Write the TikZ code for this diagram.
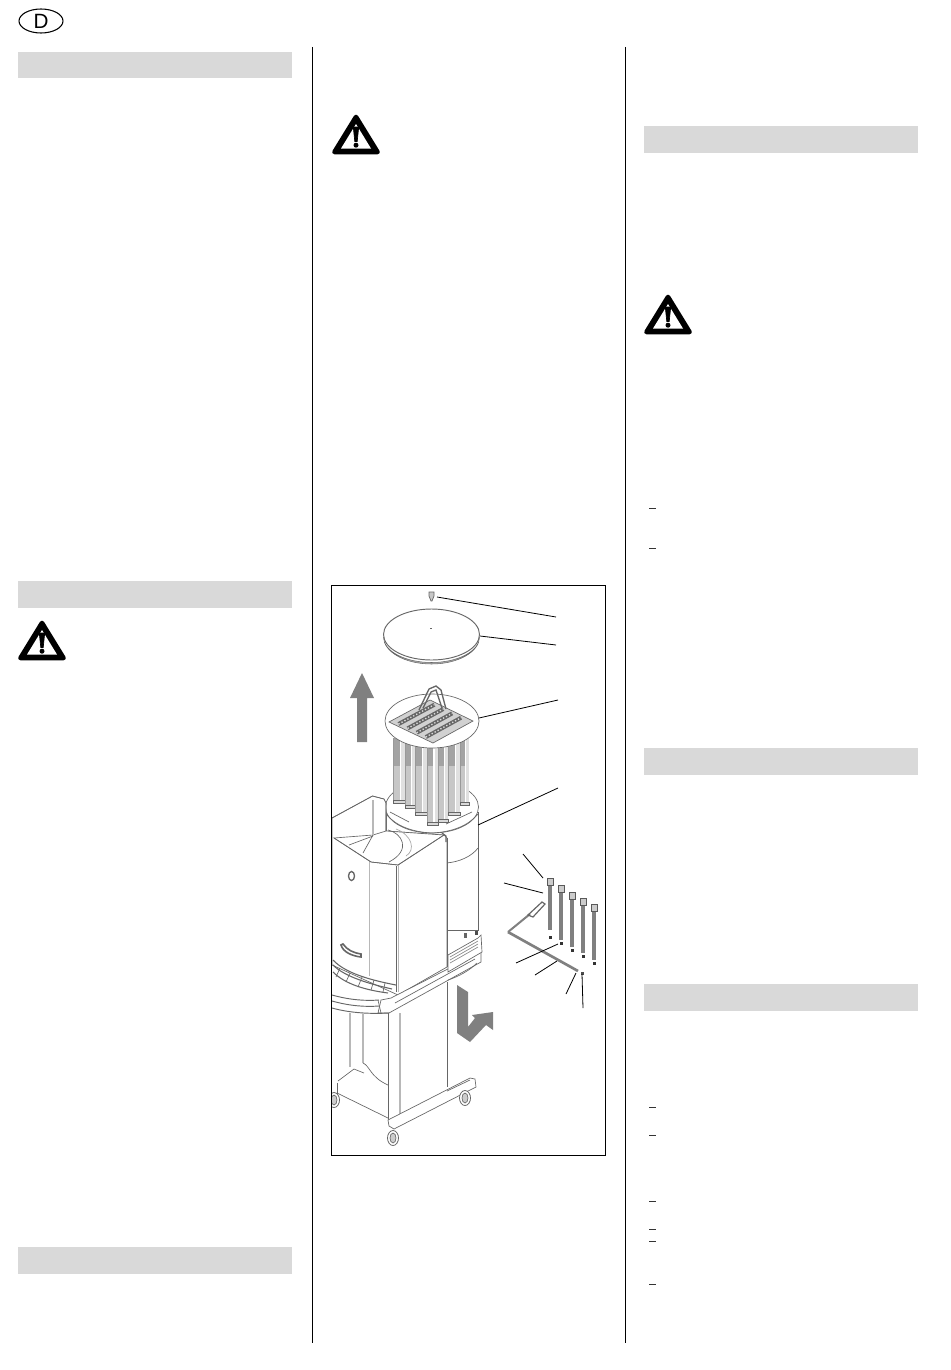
\documentclass[tikz,border=0pt]{standalone}
\usepackage{fontspec}
\setmainfont{Liberation Sans}
\usetikzlibrary{calc,shapes.geometric}
\definecolor{barfill}{gray}{0.85}
\definecolor{arrowfill}{gray}{0.5}
\tikzset{
    x=0.75pt,
    y=-0.75pt,
    bar/.style = {
        fill=barfill
    },
    rule/.style = {
        draw=black,
        line width=0.75pt
    },
    part/.style = {
        draw=black!60,
        line width=0.5pt,
        fill=white
    },
    outline/.style = {
        draw=black!60,
        line width=0.5pt
    },
    softedge/.style = {
        draw=black!28,
        line width=1.2pt
    },
    leader/.style = {
        draw=black,
        line width=0.6pt
    },
    bigarrow/.style = {
        fill=arrowfill
    },
    dashmark/.style = {
        draw=black!80,
        line width=0.6pt
    },
    warnsign/.pic = {
        \path[fill=black, draw=black, line width=3.5pt, line join=round] (0,-38) -- (21.5,-3) -- (-21.5,-3) -- cycle;
        \path[fill=white] (0,-31) -- (15,-6.5) -- (-15,-6.5) -- cycle;
        \path[fill=black, draw=black, line width=0.5pt, line join=round] (-2.7,-28) -- (2.7,-28) -- (1.2,-13.5) -- (-1.2,-13.5) -- cycle;
        \path[fill=black] (0,-9.8) circle (2.5);
    },
    caster/.pic = {
        \path[part, line width=0.6pt] (0,0) ellipse (5.5 and 7.5);
        \path[outline, fill=black!20] (0,0) ellipse (3 and 5);
    }
}
\begin{document}
\begin{tikzpicture}
    \useasboundingbox (0,0) rectangle (950,1370);

    % page furniture
    \node[draw=black, line width=0.8pt, shape=ellipse, minimum width=33pt, minimum height=18pt, inner sep=0pt, font=\fontsize{15.5}{15.5}\selectfont] (country) at (41,21) {D};
    \foreach \bx/\by in {18/52, 18/581, 18/1247, 644/126, 644/748, 644/984}
        \path[bar] (\bx,\by) rectangle ++(274,26.5);
    \foreach \rx in {312.5,625.5}
        \path[rule] (\rx,47) -- (\rx,1343);
    \foreach \wx/\wy in {42/661, 356/155, 668/335}
        \pic at (\wx,\wy) {warnsign};
    \foreach \dy in {508,548,1107,1135,1201,1229,1241,1284}
        \path[dashmark] (649,\dy) -- (656,\dy);

    % big arrows
    \path[bigarrow] (362,673) -- (374,698) -- (367,698) -- (367,742) -- (357,742) -- (357,698) -- (350,698) -- cycle;
    \path[bigarrow] (457,985) -- (468,992) -- (468,1027) -- (475,1018) -- (472,1015) -- (493,1012) -- (493,1030) -- (486,1025) -- (470,1042) -- (457,1033) -- cycle;

    % screw and lid
    \path[part, fill=black!22] (429,592) -- (434,592) -- (434,596) -- (432,601) -- (431,601) -- (429,596) -- cycle;
    \path[part, line width=0.7pt] (431.5,634.5) ellipse (48 and 25.5);
    \path[draw=black!60, line width=0.4pt, fill=black!30] (383.5,637) arc[start angle=180, end angle=0, x radius=48, y radius=27] arc[start angle=0, end angle=180, x radius=48, y radius=25.5] -- cycle;
    \path[outline] (430,628.5) -- (432,628.5);

    % base ring of the housing
    \path[part] (478,812) -- (478,930) -- (386,930) -- (386,812) -- cycle;
    \path[part] (432,807) ellipse (46.5 and 26);
    \path[outline] (386,814) .. controls (396,826) and (412,832) .. (432,833) .. controls (452,832) and (468,826) .. (478,814);
    \path[outline] (390,812) -- (409,822);
    \path[outline] (446,824) -- (472,812);
    \path[outline] (446,863) .. controls (460,862) and (472,856) .. (478,848);

    % filter elements
    \foreach \cx/\cw/\cb in {393/12/803, 405/10/808, 415/12/815, 427/11/825, 438/10/822, 448/12/815, 460/9/805} {
        \path[fill=white] (\cx,738) rectangle ++(\cw,\cb-738);
        \path[fill=black!22] (\cx,738) rectangle ++(\cw*0.55,\cb-738);
        \path[fill=black!36] (\cx,738) rectangle ++(\cw*0.55,28);
        \path[fill=black!12] (\cx+\cw*0.7,738) rectangle ++(\cw*0.3,\cb-738);
        \path[outline, draw=black!40] (\cx,738) -- (\cx,\cb);
        \path[part, fill=black!15] (\cx,\cb-3) rectangle ++(\cw,3);
    }
    \path[part] (432,721) ellipse (47 and 27);
    \coordinate (gridw) at (389,722);
    \coordinate (gridn) at (430,700);
    \coordinate (gride) at (473,721);
    \coordinate (grids) at (433,743);
    \path[part, fill=black!18] (gridw) -- (gridn) -- (gride) -- (grids) -- cycle;
    \foreach \t in {0.17,0.39,0.61,0.83} {
        \path[draw=black!60, line width=3pt] ($(gridw)!\t!(grids)!0.06!(gridn)$) -- ($(gridn)!\t!(gride)!0.06!(gridw)$);
        \path[draw=black!15, line width=1pt, dash pattern=on 1pt off 1.5pt] ($(gridw)!\t!(grids)!0.06!(gridn)$) -- ($(gridn)!\t!(gride)!0.06!(gridw)$);
    }
    \path[outline, line width=1pt] (419,710) -- (429,689) -- (436,686) -- (441,690) -- (446,709);
    \path[outline, line width=1pt] (423,708) -- (431,692) -- (436,690) -- (442,708);

    % cabinet
    \path[part] (332,818) -- (372.5,796) -- (384,799) -- (386,803) -- (386,831) -- (444,835) -- (447,838) -- (447,967) -- (398,995) -- (332,965) -- cycle;
    \path[part, fill=white] (334,838) -- (373,835) -- (386,831) -- (444,835) -- (398,865) -- (371,862) -- cycle;
    \path[outline] (332,818) -- (372.5,796) -- (384,799) -- (386,803) -- (386,831);
    \path[softedge] (373,800) -- (373,835);
    \path[outline] (349,845) -- (373,836);
    \path[outline] (363,853) -- (373,835);
    \path[outline] (388,830) .. controls (402,833) and (412,850) .. (389,862);
    \path[outline, draw=black!35] (396,829) .. controls (412,835) and (416,850) .. (406,856);
    \path[outline] (334,838) -- (371,862) -- (398,865) -- (444,835);
    \path[softedge] (369.5,862) -- (369.5,976);
    \path[softedge] (398.5,865) -- (398.5,992);
    \path[outline] (396,866) -- (396,992);
    \path[outline] (447,838) -- (447,967);
    \path[outline, line width=0.9pt] (442,833) -- (446,836) -- (446,842);
    \path[part, line width=1pt] (351.5,876) ellipse (3 and 4.5);
    \path[outline, line width=1.2pt] (341,945) .. controls (343,952) and (352,956) .. (361,957) -- (361,954) .. controls (354,953) and (347,950) .. (343,944) -- cycle;

    % tray and table top
    \path[outline, line width=0.8pt] (333,960) .. controls (345,973) and (370,980) .. (396,985);
    \path[outline, line width=0.8pt] (333,972) .. controls (345,984) and (365,990) .. (388,993);
    \path[outline, line width=0.8pt] (333,965) .. controls (345,977) and (370,984) .. (392,989);
    \foreach \ta/\tb/\tc/\td in {340/968/336/977, 350/973/346/982, 362/977/358/987, 374/980/371/990, 385/983/383/992}
        \path[outline] (\ta,\tb) -- (\tc,\td);
    \path[part] (391,998) -- (481,952) -- (481,962) -- (389,1013) -- (378,1013) -- (381,1000) -- cycle;
    \path[outline, line width=0.7pt] (332,995) .. controls (350,1000) and (365,1001) .. (379,1000);
    \path[outline, line width=0.7pt] (332,1001) .. controls (350,1006) and (365,1007) .. (379,1006);
    \path[outline, line width=0.7pt] (332,1008) .. controls (350,1013) and (370,1014) .. (389,1013);
    \path[outline] (378,1000) -- (381,1013);
    \path[part] (448,955) -- (478,938) -- (481,935) -- (482,952) -- (448,972) -- cycle;
    \foreach \of in {0,3,6}
        \path[outline, draw=black!45] (450,957+\of) -- (478,941+\of);
    \path[outline] (448,980) .. controls (460,976) and (470,970) .. (477,963);
    \path[outline] (395,1003) -- (475,959);
    \path[fill=black!70] (475,931) rectangle (478,935);
    \path[fill=black!60] (464,933) rectangle (467,938);

    % lower part of the stand
    \path[outline] (388,1013) -- (388,1120);
    \path[softedge] (400,1013) -- (400,1122);
    \path[outline] (447,982) -- (447,1087);
    \path[softedge] (350,1013) -- (350,1067);
    \path[softedge] (363,1013) -- (363,1063);
    \path[outline] (363,1063) .. controls (370,1066) and (370,1077) .. (388,1085);
    \path[outline] (338,1081) -- (354,1069) -- (364,1073);
    \path[outline] (337,1093) -- (388,1118);
    \path[outline] (337,1083) -- (337,1095);
    \path[part] (388,1120) -- (389,1126) -- (394,1129) -- (476,1087) -- (475,1079) -- (470,1078) -- cycle;
    \path[outline] (447,1091) -- (470,1080);
    \begin{scope}
        \clip (331,585) rectangle (606,1155);
        \pic at (393,1138) {caster};
        \pic at (465,1098) {caster};
        \pic at (334,1100) {caster};
    \end{scope}

    % tie rods
    \foreach \rodx/\rodtop/\rodbot/\rodpin/\rodw in {550/883/930/937/3.2, 561/890/940/943/2.6, 572/897/947/950/2.6, 583/903/953/956/2.6, 594/909/960/963/2.4} {
        \path[draw=black!50, line width=\rodw pt] (\rodx,\rodtop) -- (\rodx,\rodbot);
        \path[draw=black!65, line width=0.7pt, fill=black!20] (\rodx-3,\rodtop-5) rectangle ++(6,7);
        \path[fill=black!80] (\rodx-1.5,\rodpin-1.5) rectangle ++(3,3);
    }

    % wrench
    \path[draw=black!50, line width=2pt] (508,932) -- (578,971);
    \path[draw=black!50, line width=1.5pt] (508,932) -- (530,914);
    \path[outline, line width=0.9pt] (528,915) -- (542,902) -- (545,904) -- (533,917) -- cycle;
    \path[fill=black!70] (581,972) rectangle (584,975);

    % figure frame
    \node[draw=black, line width=0.6pt, minimum width=205.8pt, minimum height=427.3pt, inner sep=0pt, anchor=north west] (frame) at (331,585) {};

    % leader lines
    \coordinate (pscrew) at (437,597);
    \coordinate (plid) at (480,636);
    \coordinate (pfilter) at (479,718);
    \coordinate (phousing) at (478,825);
    \coordinate (lscrew) at (556,617);
    \coordinate (llid) at (556,645);
    \coordinate (lfilter) at (558,700);
    \coordinate (lhousing) at (558,788);
    \path[leader] (pscrew) -- (lscrew);
    \path[leader] (plid) -- (llid);
    \path[leader] (pfilter) -- (lfilter);
    \path[leader] (phousing) -- (lhousing);
    \coordinate (phead) at (543,878);
    \coordinate (prod) at (543,893);
    \coordinate (ppin) at (558,944);
    \coordinate (pwrench) at (557,961);
    \coordinate (pend) at (576,973);
    \coordinate (ptip) at (582,974);
    \coordinate (lhead) at (523,854);
    \coordinate (lrod) at (504,883);
    \coordinate (lpin) at (516,963);
    \coordinate (lwrench) at (535,975);
    \coordinate (lend) at (566,994);
    \coordinate (ltip) at (583,1008);
    \path[leader] (phead) -- (lhead);
    \path[leader] (prod) -- (lrod);
    \path[leader] (ppin) -- (lpin);
    \path[leader] (pwrench) -- (lwrench);
    \path[leader] (pend) -- (lend);
    \path[leader] (ptip) -- (ltip);
\end{tikzpicture}
\end{document}
